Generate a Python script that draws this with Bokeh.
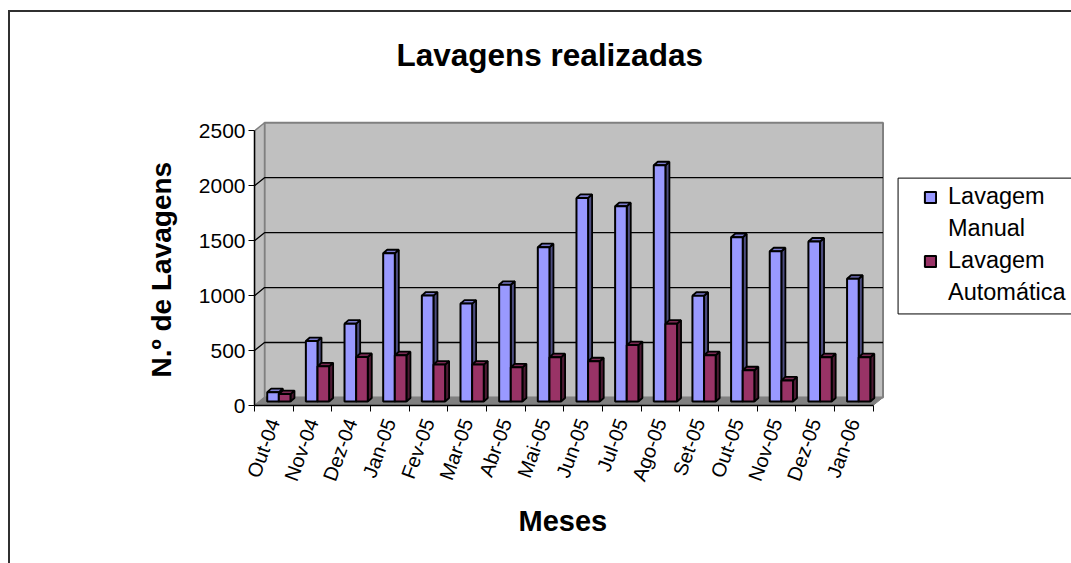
from bokeh.plotting import figure
from bokeh.embed import file_html
from bokeh.resources import INLINE
from bokeh.models import (LinearAxis, FixedTicker, Range1d, Legend, LegendItem, Title, ColumnDataSource)

months = ["Out-04","Nov-04","Dez-04","Jan-05","Fev-05","Mar-05","Abr-05","Mai-05","Jun-05","Jul-05","Ago-05","Set-05","Out-05","Nov-05","Dez-05","Jan-06"]
manual = [85,550,708,1349,964,891,1062,1404,1853,1777,2150,962,1495,1367,1456,1117]
auto = [67,320,405,421,336,336,311,403,366,513,708,421,284,192,403,403]
y_ticks = [0,500,1000,1500,2000,2500]

W, H = 1063, 553
L, R, T, B = 244, 0, 63, 160
cat_px = 617/16
val_px = 281/(2500+8/(273/2500))
wall_dx = 10/cat_px
wall_dy = 8/val_px
xwall = 16+wall_dx
ywall = 2500+wall_dy
xmax = 817/cat_px
ymax = 328/val_px

p = figure(width=W, height=H, output_backend="svg", toolbar_location=None,
           x_range=Range1d(0,xmax), y_range=Range1d(0,ymax),
           min_border_left=L, min_border_right=R, min_border_top=T, min_border_bottom=B,
           x_axis_type=None, y_axis_type=None, outline_line_color=None,
           margin=(10,0,0,8), styles={"border-left":"2px solid #303030","border-top":"2px solid #303030"})
p.grid.visible = False

FONT = "Liberation Sans"
WALL = "#C0C0C0"; GREY="#808080"

p.patch([wall_dx,xwall,xwall,wall_dx],[wall_dy,wall_dy,ywall,ywall],fill_color=WALL,line_color=GREY,line_width=2)
p.patch([0,wall_dx,wall_dx,0],[0,wall_dy,ywall,2500],fill_color=WALL,line_color=GREY,line_width=1.5)
p.patch([0,16,xwall,wall_dx],[0,0,wall_dy,wall_dy],fill_color=GREY,line_color=GREY,line_width=1)

grid = y_ticks[1:-1]
p.multi_line([[0,wall_dx,xwall] for _ in grid],[[g,g+wall_dy,g+wall_dy] for g in grid],line_color="black",line_width=1.3)

bw = 11.6/cat_px
bx0 = 5/cat_px
by0 = 4/val_px
ddx = 4/cat_px
ddy = 3.5/val_px

def bars(vals, offset, face, side, top):
    x0=[i+0.5+bx0+offset-bw for i in range(16)]
    x1=[a+bw for a in x0]
    tops=[v+by0 for v in vals]
    p.patches([[b,b+ddx,b+ddx,b] for b in x1],
              [[by0,by0+ddy,t+ddy,t] for t in tops],
              fill_color=side,line_color="black",line_width=1.8)
    p.patches([[a,a+ddx,b+ddx,b] for a,b in zip(x0,x1)],
              [[t,t+ddy,t+ddy,t] for t in tops],
              fill_color=top,line_color="black",line_width=1.8)
    src=ColumnDataSource(dict(l=x0,r=x1,t=tops,b=[by0]*16))
    return p.quad(left="l",right="r",top="t",bottom="b",source=src,fill_color=face,line_color="black",line_width=2)

r1=bars(manual,0,"#9999FF","#4D4D80","#7A7ACC")
r2=bars(auto,bw,"#993366","#4D1A33","#7A2952")

ya=LinearAxis(ticker=FixedTicker(ticks=y_ticks),axis_line_color="black",axis_line_width=1.5,
              major_tick_line_color="black",major_tick_out=6,major_tick_in=0,minor_tick_line_color=None,
              major_label_text_font=FONT,major_label_text_font_size="21px",major_label_text_color="black",major_label_standoff=3)
ya.bounds=(0,2500)
p.add_layout(ya,"left")

xa=LinearAxis(ticker=FixedTicker(ticks=[i+0.5 for i in range(16)],minor_ticks=list(range(17))),
              axis_line_color="black",axis_line_width=1.5,
              major_tick_line_color=None,minor_tick_line_color="black",minor_tick_out=6,minor_tick_in=0,
              major_tick_out=0,major_tick_in=0,
              major_label_overrides={i+0.5:m for i,m in enumerate(months)},
              major_label_text_font=FONT,major_label_text_font_size="20px",major_label_text_color="black",major_label_orientation=1.22,
              major_label_standoff=8)
xa.bounds=(0,16)
p.add_layout(xa,"below")

t=Title(text="Lavagens realizadas",text_font=FONT,text_font_size="31.5px",text_font_style="bold",text_color="black",
        align="left",offset=142,standoff=5)
p.add_layout(t,"above")

p.add_layout(Title(text="Meses",text_font=FONT,text_font_size="29px",text_font_style="bold",text_color="black",
                   align="left",offset=264,standoff=24),"below")
p.add_layout(Title(text="N.º de Lavagens",text_font=FONT,text_font_size="28px",text_font_style="bold",text_color="black",
                   align="left",offset=28,standoff=38),"left")

# legend frame
p.quad(left=[642/cat_px],right=[900/cat_px],bottom=[91/val_px],top=[226/val_px],fill_color="white",line_color="black",line_width=1)

leg=Legend(items=[LegendItem(label="Lavagem",renderers=[r1]),LegendItem(label="Manual",renderers=[]),
                  LegendItem(label="Lavagem",renderers=[r2]),LegendItem(label="Automática",renderers=[])],
           location=(669,99),label_text_font=FONT,label_text_font_size="23.5px",label_text_color="black",
           border_line_color=None,background_fill_alpha=0,
           glyph_width=14,glyph_height=14,label_standoff=11,padding=2,spacing=5,margin=0)
p.add_layout(leg,"center")

open("out.html","w").write(file_html(p,INLINE))
